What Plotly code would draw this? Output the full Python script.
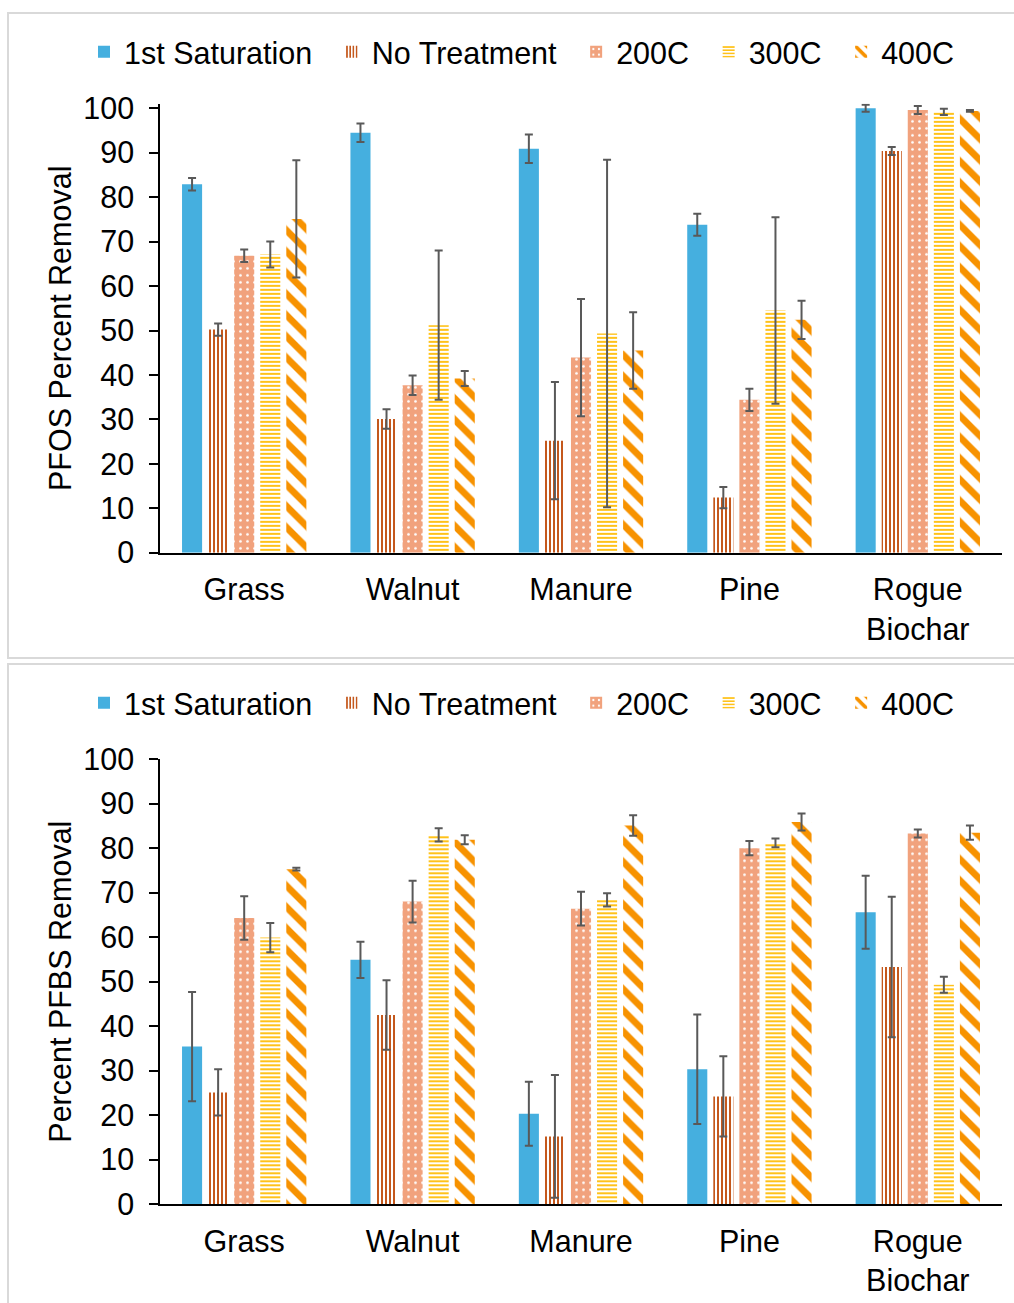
import plotly.graph_objects as go

categories = ["Grass", "Walnut", "Manure", "Pine", "Rogue<br>Biochar"]
series_names = ["1st Saturation", "No Treatment", "200C", "300C", "400C"]

# Top panel: PFOS percent removal
pfos_sat = [82.9, 94.5, 90.9, 73.8, 100.0]
pfos_sat_err = [1.4, 2.1, 3.2, 2.5, 0.8]
pfos_nt = [50.2, 30.1, 25.2, 12.4, 90.4]
pfos_nt_err = [1.4, 2.2, 13.2, 2.4, 0.9]
pfos_200 = [66.8, 37.7, 43.9, 34.4, 99.6]
pfos_200_err = [1.4, 2.2, 13.2, 2.5, 0.9]
pfos_300 = [67.1, 51.2, 49.3, 54.5, 99.2]
pfos_300_err = [2.9, 16.8, 39.1, 21.0, 0.7]
pfos_400 = [75.1, 39.2, 45.5, 52.4, 99.4]
pfos_400_err = [13.2, 1.7, 8.6, 4.3, 0.2]

# Bottom panel: PFBS percent removal
pfbs_sat = [35.4, 54.9, 20.3, 30.3, 65.6]
pfbs_sat_err = [12.3, 4.1, 7.2, 12.3, 8.2]
pfbs_nt = [25.1, 42.5, 15.2, 24.2, 53.3]
pfbs_nt_err = [5.2, 7.8, 13.8, 9.0, 15.8]
pfbs_200 = [64.3, 68.0, 66.4, 80.0, 83.3]
pfbs_200_err = [4.9, 4.7, 3.8, 1.6, 0.9]
pfbs_300 = [59.9, 83.0, 68.4, 81.2, 49.3]
pfbs_300_err = [3.3, 1.5, 1.5, 1.0, 1.8]
pfbs_400 = [75.3, 81.9, 85.1, 85.9, 83.5]
pfbs_400_err = [0.3, 1.0, 2.3, 1.9, 1.6]

y_ticks = [0, 10, 20, 30, 40, 50, 60, 70, 80, 90, 100]

styles = [
    dict(color="#45AFDF", pattern=dict(shape="")),
    dict(color="#FFFFFF", pattern=dict(shape="|", fgcolor="#C4581C", bgcolor="#FFFFFF",
                                        size=4, solidity=0.5, fillmode="replace")),
    dict(color="#F1A27D", pattern=dict(shape=".", fgcolor="#FFFFFF", bgcolor="#F1A27D",
                                        size=7, solidity=0.12, fillmode="replace")),
    dict(color="#FFFFFF", pattern=dict(shape="-", fgcolor="#FFC21A", bgcolor="#FFFFFF",
                                        size=4, solidity=0.5, fillmode="replace")),
    dict(color="#FFFFFF", pattern=dict(shape="\\", fgcolor="#F79200", bgcolor="#FFFFFF",
                                        size=15, solidity=0.45, fillmode="replace")),
]

W, H = 1014, 1303
FONT = "Liberation Sans, Arial, sans-serif"
FS = 30.5
PAD = "\u00a0\u2009"

fig = go.Figure()

top_data = [(pfos_sat, pfos_sat_err), (pfos_nt, pfos_nt_err), (pfos_200, pfos_200_err),
            (pfos_300, pfos_300_err), (pfos_400, pfos_400_err)]
bot_data = [(pfbs_sat, pfbs_sat_err), (pfbs_nt, pfbs_nt_err), (pfbs_200, pfbs_200_err),
            (pfbs_300, pfbs_300_err), (pfbs_400, pfbs_400_err)]

for name, (vals, errs), st in zip(series_names, top_data, styles):
    fig.add_trace(go.Bar(
        x=categories, y=vals, name=name + PAD, xaxis="x", yaxis="y", legend="legend",
        marker=dict(color=st["color"], pattern=st["pattern"], line=dict(width=0)),
        error_y=dict(type="data", array=errs, color="#595959", thickness=2, width=4),
        offsetgroup=name, hoverinfo="skip",
    ))

for name, (vals, errs), st in zip(series_names, bot_data, styles):
    fig.add_trace(go.Bar(
        x=categories, y=vals, name=name + PAD, xaxis="x2", yaxis="y2", legend="legend2",
        marker=dict(color=st["color"], pattern=st["pattern"], line=dict(width=0)),
        error_y=dict(type="data", array=errs, color="#595959", thickness=2, width=4),
        offsetgroup=name, hoverinfo="skip",
    ))

def py(pix):
    return 1 - pix / H

x_dom = [160 / W, 1002 / W]
tickfont = dict(family=FONT, size=FS, color="#000000")

common_x = dict(domain=x_dom, showline=True, linecolor="#000000", linewidth=2,
                ticks="outside", ticklen=9, tickcolor="rgba(0,0,0,0)",
                tickfont=tickfont, showgrid=False, zeroline=False, fixedrange=True,
                automargin=False)
common_y = dict(showline=True, linecolor="#000000", linewidth=1.5, ticks="outside",
                ticklen=9, tickwidth=1.5, tickcolor="#000000", tickvals=y_ticks,
                tickfont=tickfont, showgrid=False, zeroline=False, ticklabelstandoff=9,
                fixedrange=True, automargin=False)

legend_common = dict(orientation="h", xanchor="left", yanchor="middle",
                     font=dict(family=FONT, size=FS, color="#000000"),
                     bgcolor="rgba(0,0,0,0)", itemwidth=30, traceorder="normal")

fig.update_layout(
    width=W, height=H,
    margin=dict(l=0, r=0, t=0, b=0, autoexpand=False),
    paper_bgcolor="#FFFFFF", plot_bgcolor="#FFFFFF",
    barmode="group", bargap=0.226, bargroupgap=0.23,
    font=dict(family=FONT, color="#000000"),
    xaxis=dict(anchor="y", **common_x),
    yaxis=dict(anchor="x", range=[0, 101], domain=[py(552.7), py(108.3 - 4.44)],
               title=dict(text="PFOS Percent Removal", font=dict(family=FONT, size=FS),
                          standoff=3),
               **common_y),
    xaxis2=dict(anchor="y2", **common_x),
    yaxis2=dict(anchor="x2", range=[0, 100], domain=[py(1204), py(759.3)],
                title=dict(text="Percent PFBS Removal", font=dict(family=FONT, size=FS),
                           standoff=3),
                **common_y),
    legend=dict(x=84 / W, y=py(52), **legend_common),
    legend2=dict(x=84 / W, y=py(703), **legend_common),
    shapes=[
        dict(type="rect", xref="paper", yref="paper", x0=8 / W, x1=1.05,
             y0=py(658), y1=py(13), line=dict(color="#D9D9D9", width=2),
             fillcolor="rgba(0,0,0,0)", layer="below"),
        dict(type="rect", xref="paper", yref="paper", x0=8 / W, x1=1.05,
             y0=-0.05, y1=py(664), line=dict(color="#D9D9D9", width=2),
             fillcolor="rgba(0,0,0,0)", layer="below"),
    ],
)

fig.write_html("out.html")
